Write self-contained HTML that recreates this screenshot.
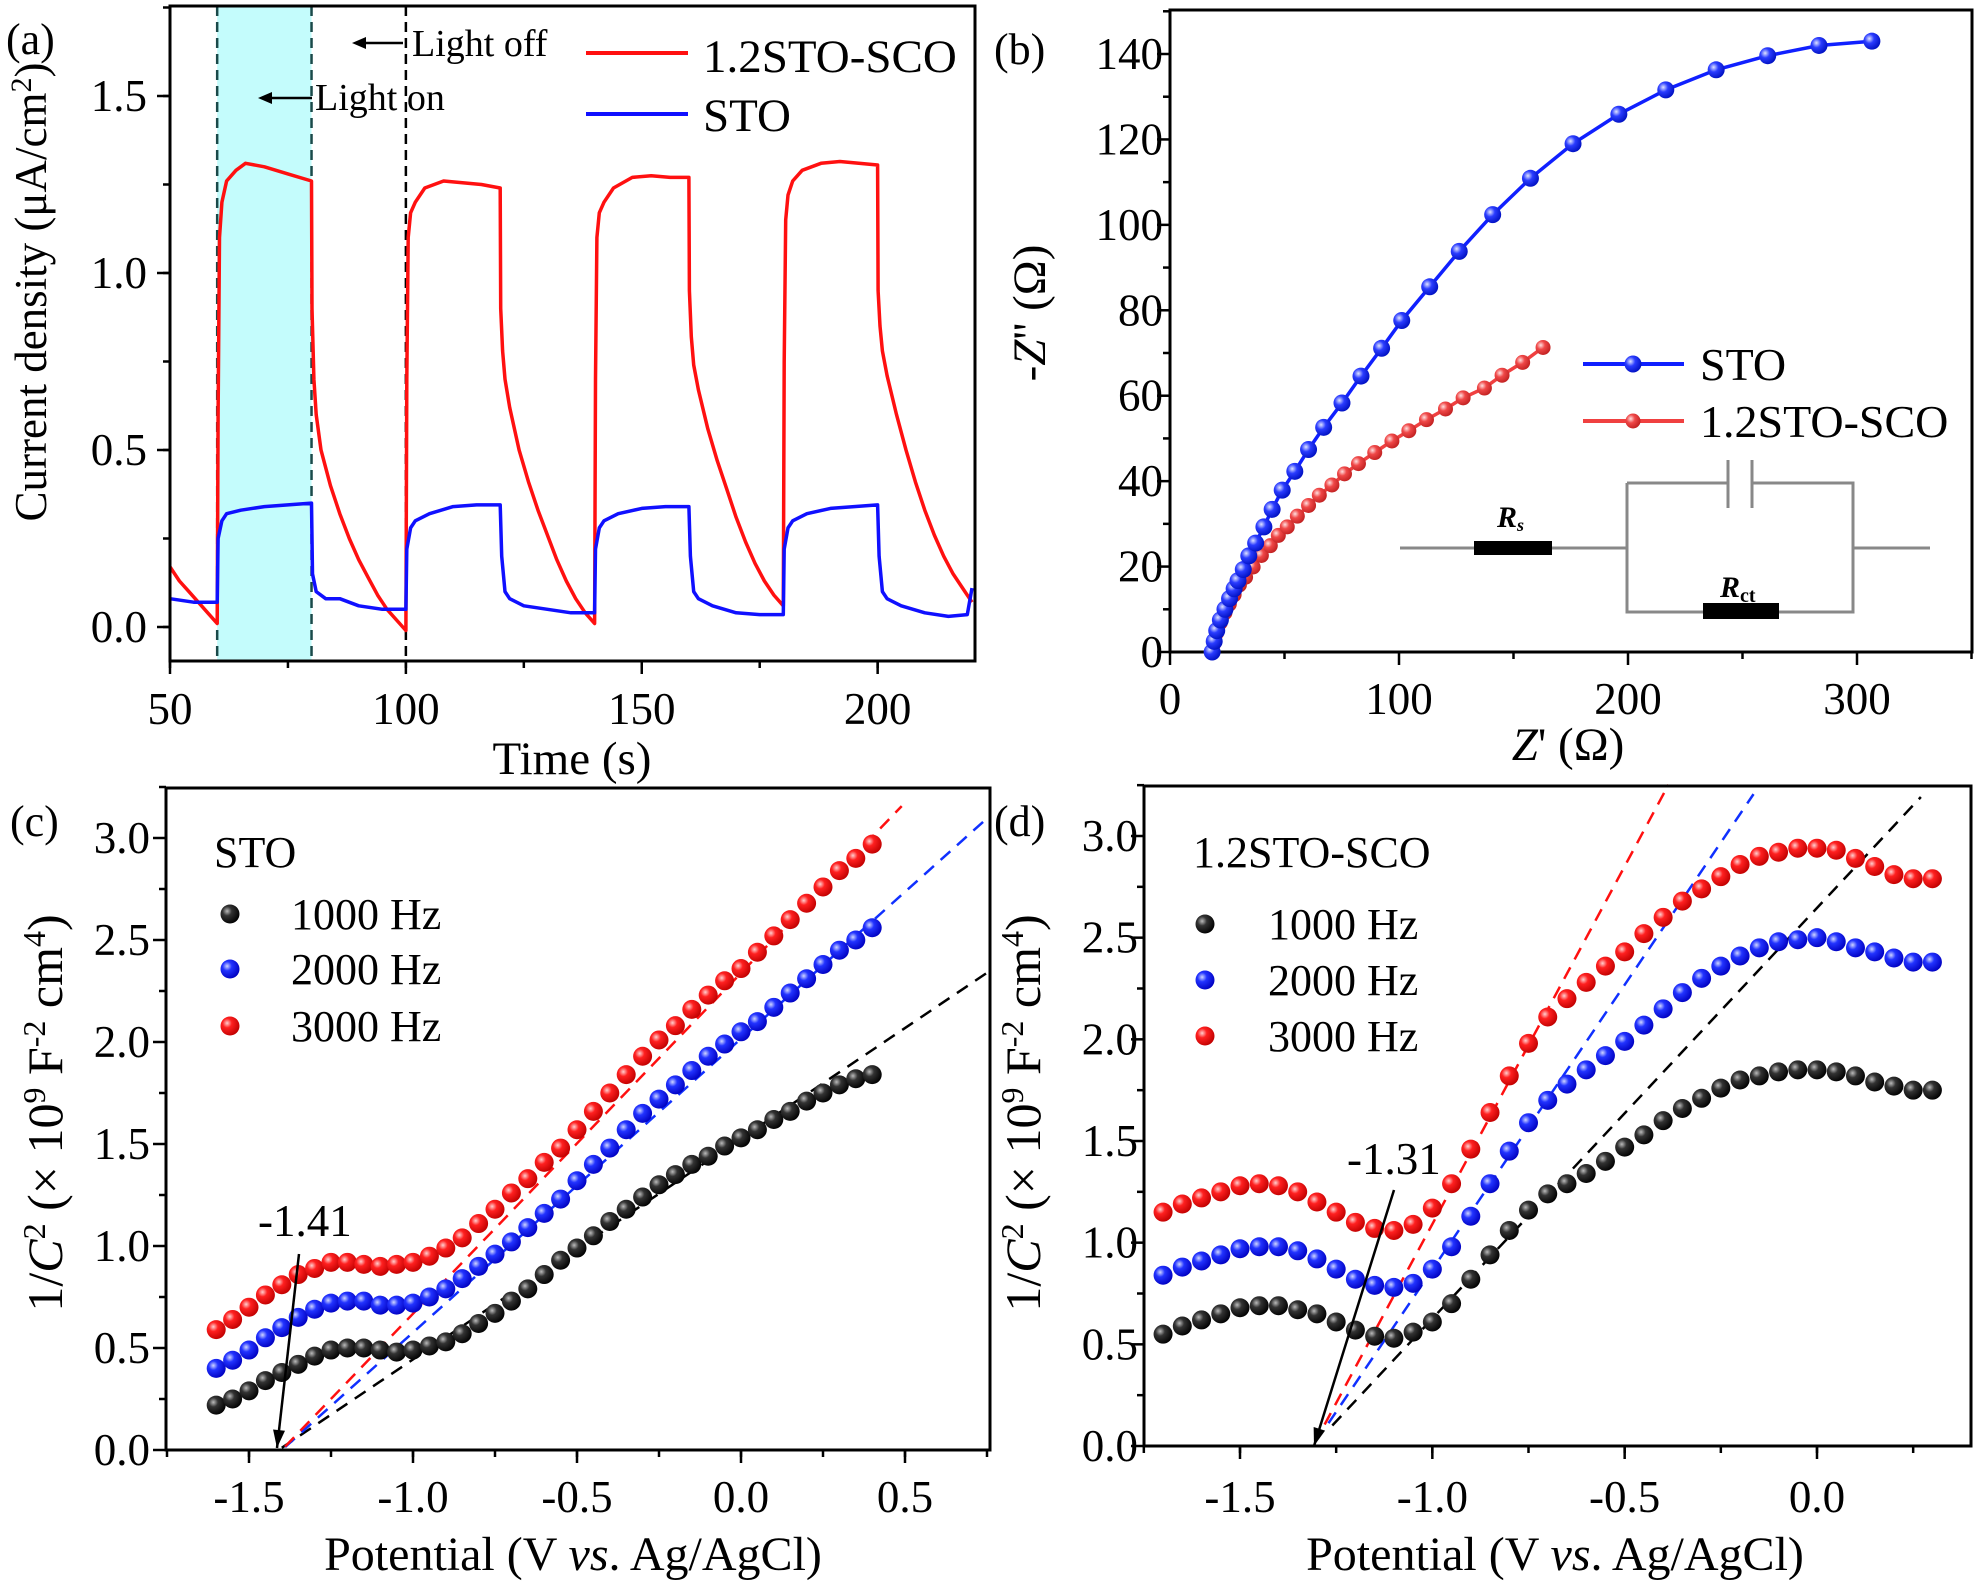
<!DOCTYPE html>
<html><head><meta charset="utf-8"><style>
body{margin:0;background:#fff}
svg{display:block;font-family:"Liberation Serif",serif}
</style></head><body>
<svg id="fig" width="1976" height="1583" viewBox="0 0 1976 1583" xmlns="http://www.w3.org/2000/svg">
<defs>
<radialGradient id="gk" cx="0.35" cy="0.35" r="0.7"><stop offset="0" stop-color="#bbb"/><stop offset="0.35" stop-color="#333"/><stop offset="1" stop-color="#000"/></radialGradient>
<radialGradient id="gb" cx="0.35" cy="0.35" r="0.7"><stop offset="0" stop-color="#cfd6ff"/><stop offset="0.35" stop-color="#2233ff"/><stop offset="1" stop-color="#0000c0"/></radialGradient>
<radialGradient id="gr" cx="0.35" cy="0.35" r="0.7"><stop offset="0" stop-color="#ffd0d0"/><stop offset="0.35" stop-color="#ff2020"/><stop offset="1" stop-color="#c00000"/></radialGradient>
<radialGradient id="gbb" cx="0.35" cy="0.35" r="0.7"><stop offset="0" stop-color="#e0e4ff"/><stop offset="0.4" stop-color="#2a3cff"/><stop offset="1" stop-color="#0010c0"/></radialGradient>
<radialGradient id="grb" cx="0.35" cy="0.35" r="0.7"><stop offset="0" stop-color="#ffe0e0"/><stop offset="0.4" stop-color="#f04848"/><stop offset="1" stop-color="#c02020"/></radialGradient>
</defs>
</svg>
<script>
// ---------- Panel (a) data ----------
const aRedT=[50,52,54,56,58,60,60.2,60.5,61,62,64,66,70,75,80,80.1,80.5,81,82,84,86,88,90,92,94,96,98,100,100.2,100.5,101,102,104,108,112,116,120,120.1,120.5,121,122,124,126,128,130,132,134,136,138,140,140.2,140.5,141,142,144,148,152,156,160,160.1,160.5,161,162,164,166,168,170,172,174,176,178,180,180.2,180.5,181,182,184,188,192,196,200,200.1,200.5,201,202,204,206,208,210,212,214,216,218,220];
const aRedV=[0.17,0.13,0.1,0.07,0.04,0.01,0.6,1.1,1.2,1.26,1.29,1.31,1.3,1.28,1.26,0.9,0.7,0.6,0.5,0.4,0.32,0.25,0.19,0.14,0.09,0.05,0.02,-0.01,0.7,1.1,1.17,1.2,1.24,1.26,1.255,1.25,1.24,0.9,0.78,0.7,0.62,0.5,0.41,0.33,0.26,0.19,0.13,0.08,0.04,0.01,0.7,1.1,1.17,1.2,1.24,1.27,1.275,1.27,1.27,0.95,0.82,0.74,0.67,0.56,0.47,0.39,0.31,0.24,0.18,0.13,0.09,0.06,0.75,1.15,1.22,1.26,1.29,1.31,1.315,1.31,1.305,0.95,0.85,0.78,0.71,0.6,0.5,0.41,0.33,0.26,0.2,0.15,0.11,0.07];
const aBlueT=[50,55,60,60.2,61,62,65,70,75,80,80.2,81,83,86,90,95,100,100.2,101,102,105,110,115,120,120.3,121,122,125,130,135,140,140.2,141,142,145,150,155,160,160.3,161,162,165,170,175,180,180.2,181,182,185,190,195,200,200.3,201,202,205,210,215,219,220];
const aBlueV=[0.08,0.07,0.07,0.25,0.3,0.32,0.33,0.34,0.345,0.35,0.15,0.1,0.08,0.08,0.06,0.05,0.05,0.22,0.28,0.3,0.32,0.34,0.345,0.345,0.2,0.1,0.08,0.06,0.05,0.04,0.04,0.22,0.28,0.3,0.32,0.335,0.34,0.34,0.2,0.1,0.08,0.06,0.04,0.035,0.035,0.22,0.28,0.3,0.32,0.335,0.34,0.345,0.2,0.1,0.08,0.06,0.04,0.03,0.035,0.11];
const aXTicks=[50,100,150,200];
const aYTicks=[0.0,0.5,1.0,1.5];
// ---------- Panel (b) data ----------
const bStoX=[18.4,19.3,20.4,22,24,26,28,29.7,32,34.4,37.4,41,44.6,49,54.5,60.5,67.1,75.1,83.4,92.4,101.2,113.4,126.3,140.9,157.4,176,196,216.5,238.5,261,283.4,306.5];
const bStoY=[0,2.5,5,7.5,10,12.5,14.8,16.7,19.3,22.5,25.5,29.3,33.4,37.9,42.3,47.4,52.6,58.3,64.6,71.1,77.6,85.5,93.8,102.4,110.9,119,125.9,131.6,136.3,139.6,142,143];
const bScoX=[18.4,19.3,20.4,22,24,25.9,28,30.3,33,36.3,39.9,43.8,47.3,51.2,55.6,60.5,65.2,70.7,76.2,82.3,89.4,96.9,104.3,112,120.3,128,137.3,145,154,162.9];
const bScoY=[0,2.1,4.5,6.9,9.2,11.2,13.4,15.7,17.5,19.9,22.6,24.9,27.3,29.3,31.8,34.3,36.7,39.1,41.7,44.1,46.7,49.4,51.8,54.4,56.9,59.5,61.8,64.8,67.8,71.3];
const bXTicks=[0,100,200,300];
const bYTicks=[0,20,40,60,80,100,120,140];
// ---------- Panel (c) data ----------
const cX=[-1.6,-1.55,-1.5,-1.45,-1.4,-1.35,-1.3,-1.25,-1.2,-1.15,-1.1,-1.05,-1.0,-0.95,-0.9,-0.85,-0.8,-0.75,-0.7,-0.65,-0.6,-0.55,-0.5,-0.45,-0.4,-0.35,-0.3,-0.25,-0.2,-0.15,-0.1,-0.05,0,0.05,0.1,0.15,0.2,0.25,0.3,0.35,0.4];
const c1000=[0.22,0.25,0.29,0.34,0.38,0.42,0.46,0.49,0.50,0.50,0.49,0.48,0.49,0.51,0.53,0.57,0.62,0.67,0.73,0.79,0.86,0.93,0.99,1.05,1.12,1.18,1.24,1.30,1.35,1.40,1.44,1.49,1.53,1.57,1.62,1.66,1.71,1.75,1.79,1.82,1.84];
const c2000=[0.40,0.44,0.49,0.55,0.60,0.65,0.69,0.72,0.73,0.73,0.71,0.71,0.72,0.75,0.79,0.84,0.90,0.96,1.02,1.09,1.16,1.23,1.32,1.40,1.48,1.57,1.65,1.72,1.79,1.86,1.93,1.99,2.05,2.10,2.17,2.24,2.31,2.38,2.45,2.50,2.56];
const c3000=[0.59,0.64,0.70,0.76,0.81,0.86,0.89,0.92,0.92,0.91,0.90,0.91,0.92,0.95,0.99,1.04,1.11,1.18,1.26,1.33,1.41,1.48,1.57,1.66,1.75,1.84,1.93,2.01,2.08,2.16,2.23,2.30,2.36,2.44,2.52,2.60,2.68,2.76,2.84,2.90,2.97];
const cFitX0=[-1.40,-1.39,-1.39];
const cFitX1=[0.76,0.76,0.49];
const cFitSlope=[1.083,1.44,1.67];
const cFitIntercept=[-1.41,-1.40,-1.40];
const cXTicks=[-1.5,-1.0,-0.5,0.0,0.5];
const cYTicks=[0.0,0.5,1.0,1.5,2.0,2.5,3.0];
// ---------- Panel (d) data ----------
const dX=[-1.7,-1.65,-1.6,-1.55,-1.5,-1.45,-1.4,-1.35,-1.3,-1.25,-1.2,-1.15,-1.1,-1.05,-1.0,-0.95,-0.9,-0.85,-0.8,-0.75,-0.7,-0.65,-0.6,-0.55,-0.5,-0.45,-0.4,-0.35,-0.3,-0.25,-0.2,-0.15,-0.1,-0.05,0,0.05,0.1,0.15,0.2,0.25,0.3];
const d1000=[0.55,0.59,0.62,0.65,0.68,0.69,0.69,0.67,0.65,0.61,0.57,0.54,0.53,0.56,0.61,0.70,0.82,0.94,1.06,1.16,1.24,1.29,1.34,1.40,1.47,1.53,1.60,1.66,1.71,1.76,1.80,1.82,1.84,1.85,1.85,1.84,1.82,1.79,1.77,1.75,1.75];
const d2000=[0.84,0.88,0.91,0.94,0.97,0.98,0.98,0.96,0.92,0.87,0.82,0.79,0.78,0.80,0.87,0.98,1.13,1.29,1.45,1.59,1.70,1.78,1.85,1.92,1.99,2.07,2.15,2.23,2.30,2.36,2.41,2.45,2.48,2.49,2.50,2.48,2.45,2.43,2.40,2.38,2.38];
const d3000=[1.15,1.19,1.22,1.25,1.28,1.29,1.28,1.25,1.20,1.15,1.10,1.07,1.06,1.09,1.17,1.29,1.46,1.64,1.82,1.98,2.11,2.20,2.28,2.36,2.43,2.52,2.60,2.68,2.74,2.80,2.86,2.90,2.92,2.94,2.94,2.93,2.89,2.85,2.81,2.79,2.79];
const dFitX0=[-1.26,-1.27,-1.28];
const dFitX1=[0.27,-0.165,-0.386];
const dFitSlope=[2.02,2.80,3.52];
const dFitIntercept=[-1.31,-1.31,-1.31];
const dXTicks=[-1.5,-1.0,-0.5,0.0];
const dYTicks=[0.0,0.5,1.0,1.5,2.0,2.5,3.0];

const NS='http://www.w3.org/2000/svg';
const svg=document.getElementById('fig');
function el(tag,attrs,parent,text){const e=document.createElementNS(NS,tag);for(const k in attrs)e.setAttribute(k,attrs[k]);if(text!==undefined)e.textContent=text;(parent||svg).appendChild(e);return e;}
function lin(d0,d1,r0,r1){return v=>r0+(v-d0)*(r1-r0)/(d1-d0);}
function fmt(v,dec){return v.toFixed(dec);}
const TF=45;
function axes(g,box,xs,ys,xT,yT,xMinor,yMinor,xDec,yDec,xLabY,yLabX){
  const fr=el('rect',{x:box[0],y:box[1],width:box[2]-box[0],height:box[3]-box[1],fill:'none',stroke:'#000','stroke-width':3},g);
  
  xMinor.forEach(v=>{const x=xs(v);if(x<box[0]-1||x>box[2]+1)return;el('line',{x1:x,x2:x,y1:box[3],y2:box[3]+7,stroke:'#000','stroke-width':2.5},g);});
  yMinor.forEach(v=>{const y=ys(v);if(y<box[1]-1||y>box[3]+1)return;el('line',{x1:box[0],x2:box[0]-7,y1:y,y2:y,stroke:'#000','stroke-width':2.5},g);});
  xT.forEach(v=>{const x=xs(v);el('line',{x1:x,x2:x,y1:box[3],y2:box[3]+13,stroke:'#000','stroke-width':2.5},g);
    const t=el('text',{x:x,y:xLabY,'font-size':TF,'text-anchor':'middle'},g,fmt(v,xDec));
    });
  yT.forEach(v=>{const y=ys(v);el('line',{x1:box[0],x2:box[0]-13,y1:y,y2:y,stroke:'#000','stroke-width':2.5},g);
    const t=el('text',{x:yLabX,y:y+15,'font-size':TF,'text-anchor':'end'},g,fmt(v,yDec));
    });
}
function range(a,b,s){const r=[];for(let v=a;v<=b+1e-9;v+=s)r.push(+v.toFixed(4));return r;}
function txt(g,x,y,size,s,anchor,extra){const t=el('text',Object.assign({x:x,y:y,'font-size':size,'text-anchor':anchor||'start'},extra||{}),g);t.innerHTML=s;return t;}

// ===== Panel (a) =====
{
const g=el('g',{});
const box=[170,6,975,661];
const xs=lin(50,220,170,972), ys=lin(0,1.5,627,96);
const sh=el('rect',{x:xs(60),y:box[1],width:xs(80)-xs(60),height:box[3]-box[1],fill:'#c4fcfc'},g);

[60,80,100].forEach(v=>{const l=el('line',{x1:xs(v),x2:xs(v),y1:box[1],y2:box[3],stroke:v===100?'#000':'#1a4a4a','stroke-width':2.5,'stroke-dasharray':'10,6'},g);
  });
let d=aRedT.map((t,i)=>(i?'L':'M')+xs(t).toFixed(1)+','+ys(aRedV[i]).toFixed(1)).join('');
const pr=el('path',{d:d,fill:'none',stroke:'#ff1010','stroke-width':3.5,'stroke-linejoin':'round'},g);

d=aBlueT.map((t,i)=>(i?'L':'M')+xs(t).toFixed(1)+','+ys(aBlueV[i]).toFixed(1)).join('');
const pb=el('path',{d:d,fill:'none',stroke:'#1010ff','stroke-width':3.5,'stroke-linejoin':'round'},g);

axes(g,box,xs,ys,aXTicks,aYTicks,range(50,220,25),range(-0.25,1.75,0.25),0,1,724,147);
el('line',{x1:403,x2:360,y1:43,y2:43,stroke:'#000','stroke-width':2.5},g);
el('path',{d:'M352,43 L366,37 L366,49 Z',fill:'#000'},g);
const lo=txt(g,412,56,38,'Light off');
el('line',{x1:312,x2:266,y1:98,y2:98,stroke:'#000','stroke-width':2.5},g);
el('path',{d:'M258,98 L272,92 L272,104 Z',fill:'#000'},g);
const ln=txt(g,315,110,38,'Light on');
el('line',{x1:586,x2:688,y1:53,y2:53,stroke:'#ff1010','stroke-width':4},g);
const l1=txt(g,703,72,47,'1.2STO-SCO');
el('line',{x1:586,x2:688,y1:114,y2:114,stroke:'#1010ff','stroke-width':4},g);
const l2=txt(g,703,131,47,'STO');
const yt=txt(g,0,0,45,'Current density (μA/cm<tspan dy="-15" font-size="30">2</tspan><tspan dy="15">)</tspan>','middle',{transform:'translate(46,292) rotate(-90)'});

const xt=txt(g,572,774,47,'Time (s)','middle');
const pl=txt(g,6,54,44,'(a)');
}
// ===== Panel (b) =====
{
const g=el('g',{});
const box=[1170,10,1972,652];
const xs=lin(0,100,1170,1399), ys=lin(0,140,652,54);
axes(g,box,xs,ys,bXTicks,bYTicks,range(50,350,100),range(10,150,20),0,0,714,1163);
function series(X,Y,col,grad,r,name){
  const p=el('path',{d:X.map((x,i)=>(i?'L':'M')+xs(x).toFixed(1)+','+ys(Y[i]).toFixed(1)).join(''),fill:'none',stroke:col,'stroke-width':3.5},g);
  
  X.forEach((x,i)=>{const c=el('circle',{cx:xs(x),cy:ys(Y[i]),r:r,fill:'url(#'+grad+')'},g);
    });
}
series(bScoX,bScoY,'#f04040','grb',7.5,'series-1.2sto-sco');
series(bStoX,bStoY,'#1020ff','gbb',8.5,'series-sto');
el('line',{x1:1583,x2:1684,y1:364,y2:364,stroke:'#1020ff','stroke-width':4},g);
el('circle',{cx:1633,cy:364,r:8.5,fill:'url(#gbb)'},g);
const l1=txt(g,1700,380,46,'STO');
el('line',{x1:1583,x2:1684,y1:421,y2:421,stroke:'#f04040','stroke-width':4},g);
el('circle',{cx:1633,cy:421,r:7.5,fill:'url(#grb)'},g);
const l2=txt(g,1700,437,46,'1.2STO-SCO');
const cg=el('g',{stroke:'#888','stroke-width':3,fill:'none'},g);
el('path',{d:'M1400,548 H1627 M1853,548 H1930 M1627,483 V612 H1853 V483 H1752 M1728,483 H1627 M1728,460 V508 M1752,460 V508'},cg);
el('rect',{x:1474,y:541,width:78,height:14,fill:'#000',stroke:'none'},g);
el('rect',{x:1703,y:603,width:76,height:16,fill:'#000',stroke:'none'},g);
const rs=txt(g,1497,527,30,'R<tspan font-size="18" dy="4">s</tspan>','start',{'font-weight':'bold','font-style':'italic'});
const rc=txt(g,1720,597,30,'R<tspan font-size="20" dy="5" font-style="normal">ct</tspan>','start',{'font-weight':'bold','font-style':'italic'});
const yt=txt(g,0,0,47,'-<tspan font-style="italic">Z</tspan>\'\' (Ω)','middle',{transform:'translate(1045,313) rotate(-90)'});

const xt=txt(g,1568,760,47,'<tspan font-style="italic">Z</tspan>\' (Ω)','middle');
const pl=txt(g,994,64,44,'(b)');
}
// ===== Panels (c),(d) =====
function mott(opt){
const g=el('g',{});
const box=opt.box, xs=opt.xs, ys=lin(0,3,opt.y0,opt.y3);
const cols=['#000','#1030ff','#ff1010'], grads=['gk','gb','gr'], labels=['1000 Hz','2000 Hz','3000 Hz'];
for(let k=0;k<3;k++){
  const x0=opt.fx0[k],x1=opt.fx1[k],s=opt.fs[k],b=opt.fb[k];
  const l=el('line',{x1:xs(x0),y1:ys(s*(x0-b)),x2:xs(x1),y2:ys(s*(x1-b)),stroke:cols[k],'stroke-width':2.5,'stroke-dasharray':'13,9'},g);
  
}
for(let k=0;k<3;k++){
  opt.X.forEach((x,i)=>{const c=el('circle',{cx:xs(x),cy:ys(opt.Y[k][i]),r:9.5,fill:'url(#'+grads[k]+')'},g);
    });
}
axes(g,box,xs,ys,opt.xT,opt.yT,range(-1.75,0.75,0.25),range(0.25,3.25,0.5),1,1,1512,opt.yLabX);
const lt=txt(g,opt.legX,867,44,opt.title);
for(let k=0;k<3;k++){el('circle',{cx:opt.legX+opt.mOff,cy:opt.legY[k],r:9.5,fill:'url(#'+grads[k]+')'},g);
  const t=txt(g,opt.legX+opt.tOff,opt.legY[k]+15,44,labels[k]);}
el('line',{x1:opt.arrow[0],y1:opt.arrow[1],x2:opt.arrow[2],y2:opt.arrow[3],stroke:'#000','stroke-width':2.5},g);
const ang=Math.atan2(opt.arrow[3]-opt.arrow[1],opt.arrow[2]-opt.arrow[0]);
const ax=opt.arrow[2],ay=opt.arrow[3];
el('path',{d:`M${ax},${ay} L${ax-18*Math.cos(ang)+6*Math.sin(ang)},${ay-18*Math.sin(ang)-6*Math.cos(ang)} L${ax-18*Math.cos(ang)-6*Math.sin(ang)},${ay-18*Math.sin(ang)+6*Math.cos(ang)} Z`,fill:'#000'},g);
const an=txt(g,opt.annX,opt.annY,45,opt.ann);
const yt=txt(g,0,0,50,'1/<tspan font-style="italic">C</tspan><tspan dy="-17" font-size="32">2</tspan><tspan dy="17"> (× 10</tspan><tspan dy="-17" font-size="32">9</tspan><tspan dy="17"> F</tspan><tspan dy="-17" font-size="32">-2</tspan><tspan dy="17"> cm</tspan><tspan dy="-17" font-size="32">4</tspan><tspan dy="17">)</tspan>','middle',{transform:`translate(${opt.ytX},1113) rotate(-90)`});

const xt=txt(g,opt.xtX,1570,48,'Potential (V <tspan font-style="italic">vs</tspan>. Ag/AgCl)','middle');
const pl=txt(g,opt.plX,836,44,opt.pl);
}
mott({name:'panel-c-mott-schottky-sto',box:[166,788,990,1450],xs:lin(-1.5,0.5,249,905),y0:1450,y3:838,
 X:cX,Y:[c1000,c2000,c3000],fx0:cFitX0,fx1:cFitX1,fs:cFitSlope,fb:cFitIntercept,xT:cXTicks,yT:cYTicks,yLabX:150,
 title:'STO',legX:214,mOff:16,tOff:77,legY:[914,969,1026],arrow:[299,1254,277,1448],ann:'-1.41',annX:258,annY:1236,ytX:62,xtX:573,plX:10,pl:'(c)'});
mott({name:'panel-d-mott-schottky-sco',box:[1144,786,1971,1446],xs:lin(-1.5,0.0,1240,1817),y0:1446,y3:836,
 X:dX,Y:[d1000,d2000,d3000],fx0:dFitX0,fx1:dFitX1,fs:dFitSlope,fb:dFitIntercept,xT:dXTicks,yT:dYTicks,yLabX:1138,
 title:'1.2STO-SCO',legX:1193,mOff:12,tOff:75,legY:[924,980,1036],arrow:[1394,1190,1314,1446],ann:'-1.31',annX:1347,annY:1174,ytX:1040,xtX:1555,plX:994,pl:'(d)'});
</script>
</body></html>
